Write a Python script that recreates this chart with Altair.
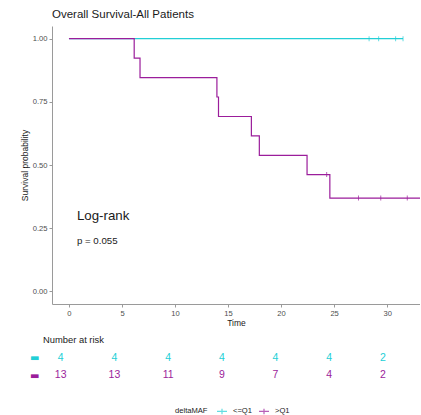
import altair as alt
import pandas as pd

# Kaplan-Meier step coordinates per group
groups = ["<=Q1", ">Q1"]
colors = ["#22CFD6", "#9B1D9B"]

low_times = [0, 31.5]
low_surv = [1.0, 1.0]
low_cens_times = [28.3, 29.2, 30.8, 31.5]
low_cens_surv = [1.0, 1.0, 1.0, 1.0]

high_times = [0, 6.15, 6.7, 13.95, 14.1, 17.2, 17.95, 22.45, 24.6, 34.0]
high_surv = [1.0, 0.923, 0.846, 0.769, 0.692, 0.615, 0.538, 0.462, 0.369, 0.369]
high_cens_times = [24.3, 27.3, 29.4, 31.9]
high_cens_surv = [0.462, 0.369, 0.369, 0.369]

# Number at risk table
risk_times = [0, 5, 10, 15, 20, 25, 30]
risk_low = [4, 4, 4, 4, 4, 4, 2]
risk_high = [13, 13, 11, 9, 7, 4, 2]

x_ticks = [0, 5, 10, 15, 20, 25, 30]
y_ticks = [0.0, 0.25, 0.5, 0.75, 1.0]

FONT = "Liberation Sans"

steps = pd.DataFrame(
    {"time": low_times + high_times,
     "surv": low_surv + high_surv,
     "group": [groups[0]] * len(low_times) + [groups[1]] * len(high_times)}
)
cens = pd.DataFrame(
    {"time": low_cens_times + high_cens_times,
     "surv": low_cens_surv + high_cens_surv,
     "group": [groups[0]] * len(low_cens_times) + [groups[1]] * len(high_cens_times)}
)
risk = pd.DataFrame(
    {"time": risk_times * 2,
     "n": risk_low + risk_high,
     "group": [groups[0]] * len(risk_times) + [groups[1]] * len(risk_times)}
)
notes = pd.DataFrame({"time": [0.75, 0.75], "surv": [0.30, 0.198],
                      "label": ["Log-rank", "p = 0.055"], "size": [13.3, 9.7]})

color = alt.Color(
    "group:N",
    scale=alt.Scale(domain=groups, range=colors),
    legend=alt.Legend(
        title="deltaMAF", orient="none", legendX=123, legendY=379,
        direction="horizontal", titleOrient="left", titleFontWeight="normal",
        titleFontSize=7.6, labelFontSize=7.6, titleColor="#1a1a1a", labelColor="#1a1a1a",
        titleFont=FONT, labelFont=FONT, titlePadding=8, labelOffset=5, columnPadding=4,
        symbolType="M-1,0H1M0,-0.55V0.55", symbolSize=100, symbolStrokeWidth=1.2,
        symbolFillColor="transparent",
    ),
)

x_enc = alt.X(
    "time:Q",
    scale=alt.Scale(domain=[-1.6, 33.1], nice=False, zero=False),
    axis=alt.Axis(values=x_ticks, title="Time", format="d", labelFontSize=7.6,
                  titleFontSize=8.5, titleFontWeight="normal", labelColor="#4d4d4d",
                  titleColor="#1a1a1a", domainColor="#9a9a9a", tickColor="#9a9a9a",
                  tickSize=3, labelPadding=2, titlePadding=2, grid=False,
                  labelFont=FONT, titleFont=FONT),
)
y_enc = alt.Y(
    "surv:Q",
    scale=alt.Scale(domain=[-0.05, 1.05], nice=False, zero=False),
    axis=alt.Axis(values=y_ticks, format=".2f", title="Survival probability",
                  labelFontSize=7.6, titleFontSize=8.5, titleFontWeight="normal",
                  labelColor="#4d4d4d", titleColor="#1a1a1a", domainColor="#9a9a9a",
                  tickColor="#9a9a9a", tickSize=3, labelPadding=2, titlePadding=3,
                  grid=False, labelFont=FONT, titleFont=FONT),
)

lines = alt.Chart(steps).mark_line(interpolate="step-after", strokeWidth=1.2, clip=True).encode(
    x=x_enc, y=y_enc, color=color, detail="group:N"
)
ticks = alt.Chart(cens).mark_tick(orient="vertical", size=5, thickness=1, clip=True).encode(
    x="time:Q", y="surv:Q", color=alt.Color("group:N")
)
labels = alt.Chart(notes).mark_text(align="left", baseline="middle", font=FONT, color="#1a1a1a").encode(
    x="time:Q", y="surv:Q", text="label:N", size=alt.Size("size:Q", scale=None, legend=None)
)

surv_plot = alt.layer(lines, ticks, labels).properties(
    width=368, height=278,
    title=alt.TitleParams("Overall Survival-All Patients", anchor="start", frame="group",
                          fontSize=11.5, fontWeight="normal", font=FONT, color="#1a1a1a",
                          offset=6),
)

risk_table = alt.Chart(risk).mark_text(fontSize=10.5, font=FONT, baseline="middle").encode(
    x=alt.X("time:Q", scale=alt.Scale(domain=[-0.81, 33.45], nice=False, zero=False), axis=None),
    y=alt.Y("group:N", sort=groups, axis=alt.Axis(
        title=None, ticks=False, domain=False, labelExpr="'▬'", labelFontSize=10,
        labelPadding=13, labelFont="DejaVu Sans",
        labelColor={"condition": {"test": "datum.value === '<=Q1'", "value": colors[0]},
                    "value": colors[1]})),
    text="n:Q",
    color=alt.Color("group:N"),
).properties(
    width=368, height=35,
    title=alt.TitleParams("Number at risk", anchor="start", frame="group", dx=-9,
                          fontSize=9.4, fontWeight="normal", font=FONT, color="#1a1a1a",
                          offset=4),
)

chart = alt.vconcat(surv_plot, risk_table, spacing=6).properties(
    padding={"left": 20, "top": 8, "right": 0, "bottom": 0}
).configure(background="white").configure_view(stroke=None)

chart.save("out.html", embed_options={"renderer": "svg", "actions": False})
